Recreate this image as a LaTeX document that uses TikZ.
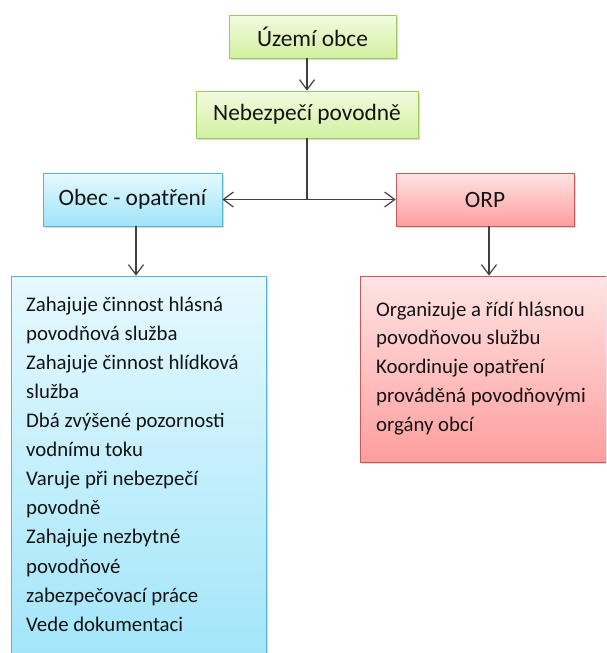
\documentclass[tikz,border=0pt]{standalone}
\usepackage{fontspec}
\setmainfont{Carlito}
\usetikzlibrary{arrows.meta,shadows,calc}
\definecolor{gtop}{HTML}{F2FBE0}
\definecolor{gbot}{HTML}{D2F0A0}
\definecolor{gbrd}{HTML}{9CCB60}
\definecolor{btop}{HTML}{E6F9FE}
\definecolor{bbot}{HTML}{9FE4F9}
\definecolor{bbrd}{HTML}{55B6D3}
\definecolor{rtop}{HTML}{FFE4E4}
\definecolor{rbot}{HTML}{FF9E9E}
\definecolor{rbrd}{HTML}{C85A5A}
\definecolor{lnc}{HTML}{404040}
\definecolor{txc}{HTML}{141414}
\tikzset{
  box/.style={draw, line width=0.8pt, inner sep=0pt, text=txc,
    drop shadow={opacity=0.3, shadow xshift=1.5pt, shadow yshift=-2pt},
    font=\fontsize{23.4}{27}\selectfont},
  greenbox/.style={box, draw=gbrd, top color=gtop, bottom color=gbot},
  bluebox/.style={box, draw=bbrd, top color=btop, bottom color=bbot},
  redbox/.style={box, draw=rbrd, top color=rtop, bottom color=rbot},
  body/.style={inner sep=0pt, align=left, text=txc,
    font=\fontsize{20.8}{29.1}\selectfont},
  arr/.style={draw=lnc, line width=1.2pt, -{Straight Barb[length=10pt,width=15pt,line width=1.2pt]}},
  ln/.style={draw=lnc, line width=1.2pt}
}
\begin{document}
\begin{tikzpicture}[x=1pt,y=-1pt]
\useasboundingbox (0,0) rectangle (606,653);
\clip (0,0) rectangle (606,653);
\node[greenbox, minimum width=167pt, minimum height=43pt] (uzemi) at (312.5,36.5) {Území obce};
\node[greenbox, minimum width=222pt, minimum height=47pt] (nebez) at (307,114.5) {Nebezpečí povodně};
\node[bluebox, minimum width=179pt, minimum height=53pt] (obec) at (132.5,199.5) {Obec - opatření};
\node[redbox, minimum width=178pt, minimum height=53pt] (orp) at (485,199.5) {ORP};
\node[bluebox, minimum width=255pt, minimum height=400pt] (lbox) at (138.5,476) {};
\node[redbox, minimum width=246pt, minimum height=186pt] (rbox) at (483,369) {};
\node[body, anchor=north west] (ltext) at (26,296.5) {Zahajuje činnost hlásná\\povodňová služba\\Zahajuje činnost hlídková\\služba\\Dbá zvýšené pozornosti\\vodnímu toku\\Varuje při nebezpečí\\povodně\\Zahajuje nezbytné\\povodňové\\zabezpečovací práce\\Vede dokumentaci};
\node[body, anchor=north west, font=\fontsize{20.8}{28.8}\selectfont] (rtext) at (376,301.5) {Organizuje a řídí hlásnou\\povodňovou službu\\Koordinuje opatření\\prováděná povodňovými\\orgány obcí};
\draw[arr] (uzemi.south -| nebez) -- (nebez.north);
\coordinate (j) at (nebez.south |- obec.east);
\draw[ln] (nebez.south) -- (j);
\draw[arr] (j) -- (obec.east);
\draw[arr] (j) -- (orp.west);
\draw[arr] ([xshift=3.5pt]obec.south) -- ([xshift=3.5pt]obec.south |- lbox.north);
\draw[arr] ([xshift=4pt]orp.south) -- ([xshift=4pt]orp.south |- rbox.north);
\end{tikzpicture}
\end{document}
